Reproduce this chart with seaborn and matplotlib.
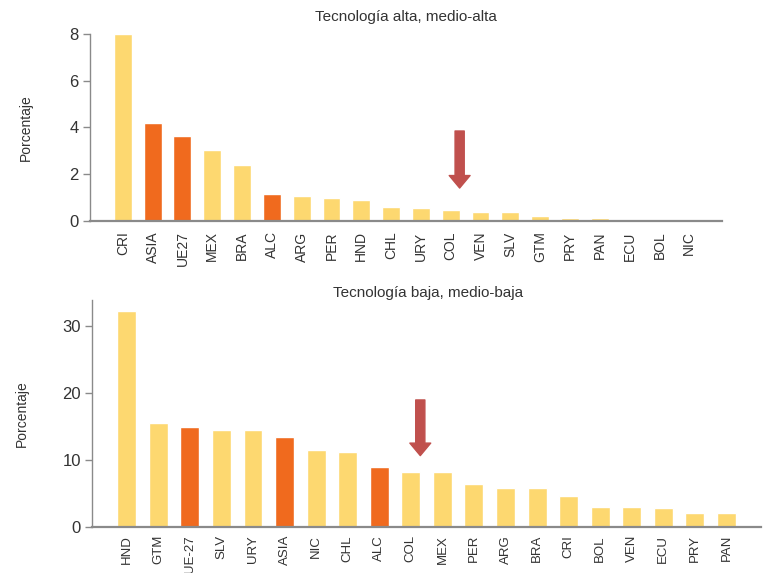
import matplotlib
matplotlib.use('Agg')
import matplotlib.pyplot as plt
import seaborn as sns

sns.set_style("white")
plt.rcParams['font.family'] = ['Liberation Sans Narrow', 'Liberation Sans', 'DejaVu Sans']

YELLOW = "#FDD870"
ORANGE = "#F06A1E"
ARROW = "#C0504D"
GRAY = "#8A8A8A"
TXT = "#333333"

regions = ["ASIA", "UE-27", "UE27", "ALC"]

# Tecnología alta, medio-alta
alta_cats = ["CRI", "ASIA", "UE27", "MEX", "BRA", "ALC", "ARG", "PER", "HND", "CHL",
             "URY", "COL", "VEN", "SLV", "GTM", "PRY", "PAN", "ECU", "BOL", "NIC"]
alta_vals = [8.0, 4.2, 3.65, 3.05, 2.4, 1.15, 1.07, 1.0, 0.88, 0.6,
             0.55, 0.48, 0.4, 0.4, 0.2, 0.12, 0.12, 0.06, 0.06, 0.0]

# Tecnología baja, medio-baja
baja_cats = ["HND", "GTM", "UE-27", "SLV", "URY", "ASIA", "NIC", "CHL", "ALC", "COL",
             "MEX", "PER", "ARG", "BRA", "CRI", "BOL", "VEN", "ECU", "PRY", "PAN"]
baja_vals = [32.2, 15.4, 14.9, 14.4, 14.4, 13.4, 11.4, 11.1, 8.9, 8.1,
             8.1, 6.4, 5.8, 5.8, 4.6, 3.0, 3.0, 2.8, 2.1, 2.1]

fig = plt.figure(figsize=(7.65, 5.73), dpi=100)
ax1 = fig.add_axes([0.1176, 0.6143, 0.8262, 0.3264])
ax2 = fig.add_axes([0.1203, 0.0808, 0.8747, 0.3956])


def draw(ax, cats, vals, ymax, yticks, arrow_from, arrow_to, xsize, xpad):
    pal = {c: (ORANGE if c in regions else YELLOW) for c in cats}
    sns.barplot(x=cats, y=vals, hue=cats, palette=pal, legend=False,
                width=0.6, saturation=1, ax=ax, order=cats)
    n = len(cats)
    ax.set_xlim(-1.1, n - 1 + 1.1)
    ax.set_ylim(0, ymax)
    ax.set_yticks(yticks)
    for s in ["top", "right"]:
        ax.spines[s].set_visible(False)
    ax.spines["left"].set_color(GRAY)
    ax.spines["left"].set_linewidth(1.0)
    ax.spines["bottom"].set_color(GRAY)
    ax.spines["bottom"].set_linewidth(1.6)
    ax.tick_params(axis="y", left=True, length=5, width=1, color=GRAY,
                   labelsize=12, labelcolor=TXT, pad=3)
    ax.tick_params(axis="x", bottom=False, labelsize=xsize, labelcolor=TXT,
                   labelrotation=90, pad=xpad)
    ax.set_ylabel("Porcentaje", fontsize=10, color=TXT)
    ci = cats.index("COL")
    ax.annotate("", xy=(ci + 0.3, arrow_to), xytext=(ci + 0.3, arrow_from),
                arrowprops=dict(arrowstyle="simple,head_length=0.45,head_width=0.75,tail_width=0.33",
                                color=ARROW, mutation_scale=20, shrinkA=0, shrinkB=0))


draw(ax1, alta_cats, alta_vals, 8.0, [0, 2, 4, 6, 8], 3.85, 1.41, 10, 4)
draw(ax2, baja_cats, baja_vals, 33.8, [0, 10, 20, 30], 18.9, 10.6, 9.5, 2.5)

ax1.yaxis.set_label_coords(-0.09, 0.5)
ax2.yaxis.set_label_coords(-0.095, 0.5)

fig.text(406 / 765, 1 - 17 / 573, "Tecnología alta, medio-alta", ha="center",
         va="center", fontsize=11, color=TXT)
fig.text(428 / 765, 1 - 293 / 573, "Tecnología baja, medio-baja", ha="center",
         va="center", fontsize=11, color=TXT)

plt.savefig("out.png", dpi=100)
